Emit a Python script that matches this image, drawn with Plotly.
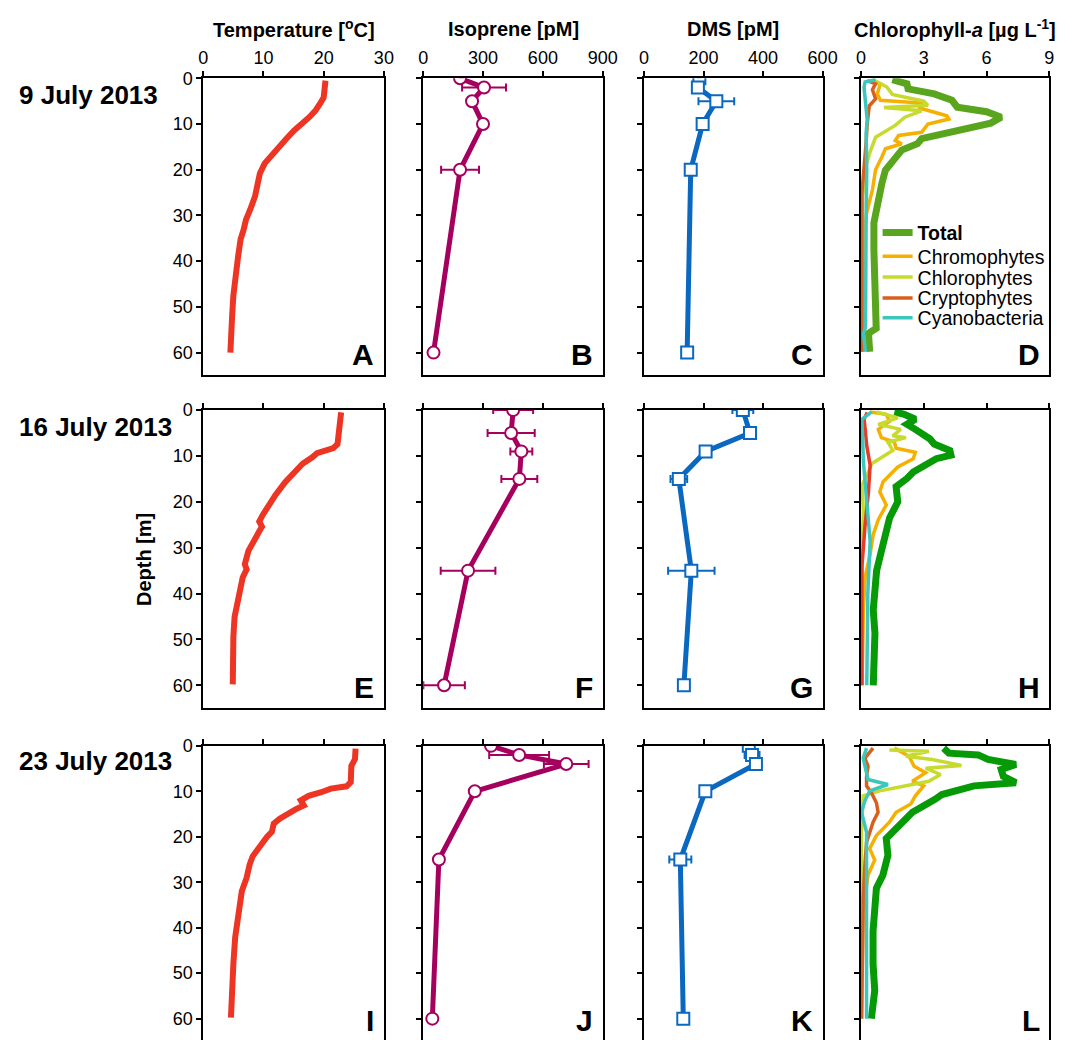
import plotly.graph_objects as go

# ---------------- data ----------------
dates = ["9 July 2013", "16 July 2013", "23 July 2013"]
panel_letters = ["A", "B", "C", "D", "E", "F", "G", "H", "I", "J", "K", "L"]
col_titles = ["Temperature [<sup>o</sup>C]", "Isoprene [pM]", "DMS [pM]",
              "Chlorophyll-<i>a</i> [µg L<sup>-1</sup>]"]
x_ticks = [[0, 10, 20, 30], [0, 300, 600, 900], [0, 200, 400, 600], [0, 3, 6, 9]]
depth_ticks = [0, 10, 20, 30, 40, 50, 60]

# Temperature profiles
temp_depth_1 = [0.5, 4.2, 5.3, 7.1, 8.5, 10.3, 11.4, 13.2, 15.0, 16.8, 18.6, 20.8, 23.0, 25.8,
                28.7, 30.9, 33.1, 35.2, 38.8, 43.2, 47.5, 51.8, 56.2, 60.0]
temp_1 = [20.3, 20.0, 19.5, 18.6, 17.6, 15.9, 15.1, 13.8, 12.7, 11.3, 10.2, 9.4, 9.0, 8.6,
          7.8, 7.1, 6.7, 6.2, 5.8, 5.3, 5.0, 4.8, 4.6, 4.5]
temp_depth_2 = [0.5, 4.2, 7.4, 8.3, 9.4, 10.3, 11.7, 13.5, 15.7, 18.5, 21.0, 22.8, 24.3, 25.4,
                26.4, 28.6, 30.7, 33.6, 34.7, 36.5, 40.1, 42.2, 45.1, 49.4, 54.5, 59.8]
temp_2 = [22.9, 22.7, 22.3, 21.6, 18.9, 18.1, 16.5, 15.2, 13.6, 12.0, 10.7, 9.9, 9.3, 9.75,
          9.3, 8.3, 7.5, 6.9, 7.2, 6.55, 6.0, 5.6, 5.2, 5.0, 4.9, 4.9]
temp_depth_3 = [0.6, 2.9, 4.4, 8.0, 8.9, 9.4, 10.2, 11.0, 12.0, 13.1, 13.9, 14.9, 16.0, 17.1,
                18.9, 20.0, 21.8, 24.3, 26.1, 29.0, 32.0, 37.8, 42.1, 47.9, 52.3, 59.8]
temp_3 = [25.3, 25.2, 24.6, 24.5, 23.8, 21.2, 19.6, 17.5, 16.2, 16.7, 15.4, 14.0, 12.7, 11.7,
          11.4, 10.6, 9.5, 8.2, 7.7, 7.2, 6.4, 5.8, 5.3, 5.0, 4.8, 4.6]

# Isoprene (pM) with standard deviation
iso_depth_1 = [0, 2, 5, 10, 20, 60]
iso_1 = [185, 305, 245, 300, 185, 52]
iso_err_1 = [0, 110, 0, 0, 95, 0]
iso_depth_2 = [0, 5, 9, 15, 35, 60]
iso_2 = [451, 441, 492, 482, 225, 105]
iso_err_2 = [100, 118, 55, 90, 137, 104]
iso_depth_3 = [0, 2, 4, 10, 25, 60]
iso_3 = [340, 481, 717, 259, 79, 46]
iso_err_3 = [0, 150, 112, 0, 0, 0]

# DMS (pM) with standard deviation
dms_depth_1 = [0, 2, 5, 10, 20, 60]
dms_1 = [186, 181, 243, 197, 157, 145]
dms_err_1 = [0, 0, 60, 0, 0, 0]
dms_depth_2 = [0, 5, 9, 15, 35, 60]
dms_2 = [332, 356, 207, 117, 159, 134]
dms_err_2 = [35, 0, 0, 28, 78, 0]
dms_depth_3 = [0, 2, 4, 10, 25, 60]
dms_3 = [352, 363, 376, 206, 122, 132]
dms_err_3 = [0, 25, 12, 0, 37, 0]

# Chlorophyll-a by group (ug/L)
chl_groups = ["<b>Total</b>", "Chromophytes", "Chlorophytes", "Cryptophytes", "Cyanobacteria"]

tot_d1 = [0.3, 1.2, 2.3, 3.4, 4.8, 6.3, 7.3, 8.5, 9.8, 11.0, 12.1, 13.2, 14.3, 15.7, 17.9, 20.1,
          23.0, 27.3, 31.6, 37.4, 43.9, 51.1, 54.7, 55.8, 59.8]
tot_v1 = [1.5, 2.2, 2.25, 3.5, 4.35, 4.6, 6.0, 6.7, 6.2, 4.9, 3.98, 2.9, 2.7, 1.95, 1.56, 1.17,
          1.0, 0.78, 0.62, 0.62, 0.67, 0.67, 0.73, 0.36, 0.42]
chromo_d1 = [0.5, 1.2, 3.4, 4.8, 5.4, 6.5, 8.2, 8.9, 10.0, 11.8, 12.5, 13.6, 14.3, 15.4, 17.2,
             20.0, 24.4, 29.5, 34.5, 45.0, 59.8]
chromo_v1 = [0.5, 0.93, 0.78, 0.93, 2.9, 2.8, 4.1, 4.2, 3.2, 2.9, 1.8, 1.64, 1.95, 1.17, 1.0,
             0.7, 0.55, 0.27, 0.15, 0.1, 0.08]
chloro_d1 = [0.2, 1.9, 3.5, 5.0, 5.9, 6.4, 7.1, 8.5, 10.3, 12.1, 12.9, 15.7, 18.6, 25.8, 40.0, 59.8]
chloro_v1 = [0.55, 1.24, 1.5, 3.0, 3.2, 1.1, 2.9, 2.1, 1.64, 1.0, 0.7, 0.47, 0.27, 0.08, 0.05, 0.05]
crypto_d1 = [0.5, 1.2, 2.5, 4.5, 6.0, 8.0, 10.0, 14.0, 20.0, 25.0, 40.0, 59.8]
crypto_v1 = [0.3, 0.7, 0.55, 0.7, 0.4, 0.35, 0.3, 0.25, 0.15, 0.05, 0.05, 0.05]
cyano_d1 = [0.3, 0.8, 2.0, 5.0, 9.0, 12.0, 20.0, 30.0, 40.0, 50.0, 54.5, 55.8, 59.8]
cyano_v1 = [0.7, 0.2, 0.15, 0.2, 0.3, 0.25, 0.28, 0.25, 0.25, 0.25, 0.22, 0.12, 0.22]

tot_d2 = [0.4, 0.9, 2.0, 3.1, 4.2, 6.3, 7.4, 8.8, 9.8, 10.6, 13.5, 14.9, 16.7, 20.0, 23.5, 27.1,
          30.7, 35.0, 38.6, 43.6, 48.7, 54.4, 60.0]
tot_v2 = [1.6, 2.07, 2.6, 2.2, 2.6, 3.3, 3.5, 4.25, 4.3, 3.6, 2.5, 2.2, 1.68, 1.76, 1.37, 1.14,
          0.98, 0.75, 0.67, 0.59, 0.67, 0.59, 0.59]
chromo_d2 = [0.4, 0.9, 2.4, 4.2, 6.0, 7.0, 8.3, 9.2, 10.6, 12.4, 15.6, 17.8, 20.7, 23.9, 27.1,
             31.4, 36.5, 43.6, 60.0]
chromo_v2 = [0.44, 1.2, 1.37, 0.83, 0.98, 1.6, 1.68, 2.6, 2.5, 1.76, 1.06, 0.9, 1.21, 0.83, 0.59,
             0.44, 0.2, 0.12, 0.05]
chloro_d2 = [0.4, 1.7, 3.1, 4.2, 5.6, 6.0, 7.0, 8.8, 11.7, 13.5, 16.4, 22.0, 32.0, 60.0]
chloro_v2 = [0.75, 1.76, 0.83, 1.9, 1.52, 2.15, 1.29, 1.52, 0.51, 0.36, 0.05, 0.12, 0.05, 0.05]
crypto_d2 = [0.5, 2.0, 4.0, 7.8, 12.0, 17.8, 25.0, 34.0, 60.0]
crypto_v2 = [0.3, 0.15, 0.2, 0.28, 0.44, 0.36, 0.2, 0.05, 0.05]
cyano_d2 = [0.4, 2.0, 11.3, 20.0, 28.6, 40.0, 60.0]
cyano_v2 = [0.51, 0.05, 0.12, 0.28, 0.44, 0.33, 0.28]

tot_d3 = [0.5, 1.6, 2.0, 3.0, 4.1, 5.2, 6.7, 8.1, 8.8, 10.7, 11.7, 12.8, 14.6, 17.5, 20.4, 24.1,
          28.4, 31.3, 35.7, 40.7, 48.0, 53.8, 60.0]
tot_v3 = [3.95, 4.2, 5.6, 6.07, 7.4, 6.7, 6.8, 7.4, 5.4, 3.87, 3.56, 3.09, 2.46, 1.83, 1.21, 1.29,
          1.05, 0.74, 0.66, 0.58, 0.58, 0.66, 0.5]
chromo_d3 = [0.5, 2.3, 4.5, 5.9, 7.8, 8.8, 11.0, 12.8, 14.6, 16.8, 19.7, 22.6, 25.1, 28.4, 36.0, 60.0]
chromo_v3 = [1.6, 2.3, 2.54, 3.09, 2.46, 3.0, 2.6, 2.38, 1.68, 1.36, 0.74, 0.42, 0.66, 0.34, 0.11, 0.03]
chloro_d3 = [0.9, 1.2, 2.3, 3.0, 4.3, 4.9, 6.3, 7.8, 9.9, 11.0, 19.0, 60.0]
chloro_v3 = [1.36, 3.24, 2.15, 3.4, 4.8, 3.09, 3.8, 3.24, 0.9, 0.11, 0.03, 0.03]
crypto_d3 = [0.5, 2.7, 4.5, 6.7, 8.8, 10.3, 12.5, 14.6, 16.8, 21.2, 26.2, 33.5, 60.0]
crypto_v3 = [0.58, 0.19, 0.34, 0.27, 0.27, 0.5, 0.74, 0.82, 0.58, 0.27, 0.19, 0.11, 0.03]
cyano_d3 = [0.5, 2.7, 7.4, 8.5, 9.9, 12.1, 14.6, 19.0, 26.2, 48.0, 60.0]
cyano_v3 = [0.27, 0.11, 0.34, 1.29, 0.42, 0.19, 0.03, 0.27, 0.27, 0.27, 0.27]

# ---------------- styles ----------------
W, H = 1084, 1040
FONT = "Arial, 'Liberation Sans', sans-serif"
C_TEMP = "#EE3524"
C_ISO = "#A6005F"
C_DMS = "#0A68C0"
C_TOT = ["#5AA51E", "#079A07", "#079A07"]
C_CHROMO = "#F5B000"
C_CHLORO = "#C6DB2E"
C_CRYPTO = ["#D8601E", "#E83A28", "#D8601E"]
C_CYANO = "#3CC6BC"

COLS = [(202, 386), (426, 609), (651, 833), (872, 1064)]   # pixel x bounds
ROWS = [(69, 369), (404, 705), (743, 1040)]                # pixel y bounds
YMAX = [65.0, 65.0, 64.7]
XRANGES = [[0, 30], [0, 900], [0, 600], [0, 9]]


def px(x):
    return x / W


def py(y):
    return 1 - y / H


temps = [(temp_1, temp_depth_1), (temp_2, temp_depth_2), (temp_3, temp_depth_3)]
isos = [(iso_1, iso_depth_1, iso_err_1), (iso_2, iso_depth_2, iso_err_2),
        (iso_3, iso_depth_3, iso_err_3)]
dmss = [(dms_1, dms_depth_1, dms_err_1), (dms_2, dms_depth_2, dms_err_2),
        (dms_3, dms_depth_3, dms_err_3)]
chls = [
    [(tot_v1, tot_d1), (chromo_v1, chromo_d1), (chloro_v1, chloro_d1), (crypto_v1, crypto_d1), (cyano_v1, cyano_d1)],
    [(tot_v2, tot_d2), (chromo_v2, chromo_d2), (chloro_v2, chloro_d2), (crypto_v2, crypto_d2), (cyano_v2, cyano_d2)],
    [(tot_v3, tot_d3), (chromo_v3, chromo_d3), (chloro_v3, chloro_d3), (crypto_v3, crypto_d3), (cyano_v3, cyano_d3)],
]

fig = go.Figure()
layout_axes = {}

for r in range(3):
    for c in range(4):
        k = r * 4 + c + 1
        xa = "xaxis" if k == 1 else f"xaxis{k}"
        ya = "yaxis" if k == 1 else f"yaxis{k}"
        layout_axes[xa] = dict(
            domain=[px(COLS[c][0]), px(COLS[c][1])], anchor=f"y{k}" if k > 1 else "y",
            range=XRANGES[c], side="top", tickvals=x_ticks[c],
            showticklabels=(r == 0), ticks="outside", ticklen=5, tickwidth=2,
            tickcolor="black", showline=True, linecolor="black", linewidth=2,
            mirror=(r < 2), showgrid=False, zeroline=False,
            tickfont=dict(family=FONT, size=18, color="black"), fixedrange=True,
        )
        layout_axes[ya] = dict(
            domain=[py(ROWS[r][1]), py(ROWS[r][0])], anchor=f"x{k}" if k > 1 else "x",
            range=[YMAX[r], 0], tickvals=depth_ticks, showticklabels=(c == 0),
            ticks="outside", ticklen=5, tickwidth=2, tickcolor="black",
            showline=True, linecolor="black", linewidth=2, mirror=True,
            showgrid=False, zeroline=False,
            tickfont=dict(family=FONT, size=18, color="black"), fixedrange=True,
        )

    ax = lambda c: ("x" if r * 4 + c + 1 == 1 else f"x{r * 4 + c + 1}",
                    "y" if r * 4 + c + 1 == 1 else f"y{r * 4 + c + 1}")

    # Temperature
    xx, yy = ax(0)
    t, d = temps[r]
    fig.add_trace(go.Scatter(x=t, y=d, xaxis=xx, yaxis=yy, mode="lines",
                             line=dict(color=C_TEMP, width=6), showlegend=False))
    # Isoprene
    xx, yy = ax(1)
    v, d, e = isos[r]
    fig.add_trace(go.Scatter(
        x=v, y=d, xaxis=xx, yaxis=yy, mode="lines+markers",
        line=dict(color=C_ISO, width=5),
        marker=dict(symbol="circle", size=12, color="white", line=dict(color=C_ISO, width=2)),
        error_x=dict(type="data", array=e, color=C_ISO, thickness=2, width=4, visible=True),
        showlegend=False))
    # DMS
    xx, yy = ax(2)
    v, d, e = dmss[r]
    fig.add_trace(go.Scatter(
        x=v, y=d, xaxis=xx, yaxis=yy, mode="lines+markers",
        line=dict(color=C_DMS, width=5),
        marker=dict(symbol="square", size=12, color="white", line=dict(color=C_DMS, width=2)),
        error_x=dict(type="data", array=e, color=C_DMS, thickness=2, width=4, visible=True),
        showlegend=False))
    # Chlorophyll
    xx, yy = ax(3)
    colors = [C_TOT[r], C_CHROMO, C_CHLORO, C_CRYPTO[r], C_CYANO]
    widths = [7, 3.5, 3.5, 3.5, 3.5]
    for g in range(5):
        v, d = chls[r][g]
        leg = "legend" if g == 0 else f"legend{g + 1}"
        fig.add_trace(go.Scatter(
            x=v, y=d, xaxis=xx, yaxis=yy, mode="lines", name=chl_groups[g],
            line=dict(color=colors[g], width=widths[g]),
            showlegend=(r == 0), legend=leg))

# legends (one entry each, placed inside panel D)
legend_y = [225, 249, 270, 291, 311]
for g in range(5):
    key = "legend" if g == 0 else f"legend{g + 1}"
    layout_axes[key] = dict(
        x=px(889), y=py(legend_y[g]), xanchor="left", yanchor="middle",
        bgcolor="rgba(0,0,0,0)", borderwidth=0, itemwidth=30,
        font=dict(family=FONT, size=19.5, color="black"),
        itemclick=False, itemdoubleclick=False,
    )

annotations = []
# column titles
title_cx = [294, 518, 742, 968]
for c in range(4):
    annotations.append(dict(
        text=f"<b>{col_titles[c]}</b>", x=px(title_cx[c]), y=py(19), xref="paper", yref="paper",
        xanchor="center", yanchor="middle", showarrow=False,
        font=dict(family=FONT, size=20, color="black")))
# date labels
date_cy = [86, 421, 758]
for r in range(3):
    annotations.append(dict(
        text=f"<b>{dates[r]}</b>", x=px(12), y=py(date_cy[r]), xref="paper", yref="paper",
        xanchor="left", yanchor="middle", showarrow=False,
        font=dict(family=FONT, size=26, color="black")))
# depth label
annotations.append(dict(
    text="<b>Depth [m]</b>", x=px(141), y=py(555), xref="paper", yref="paper",
    xanchor="center", yanchor="middle", textangle=-90, showarrow=False,
    font=dict(family=FONT, size=20, color="black")))
# panel letters
row_bottom = [369, 705, 1041]
for r in range(3):
    for c in range(4):
        annotations.append(dict(
            text=f"<b>{panel_letters[r * 4 + c]}</b>", x=px(COLS[c][1] - 8),
            y=py(row_bottom[r] - 2), xref="paper", yref="paper",
            xanchor="right", yanchor="bottom", showarrow=False,
            font=dict(family=FONT, size=30, color="black")))

fig.update_layout(
    width=W, height=H, margin=dict(l=0, r=0, t=0, b=0),
    paper_bgcolor="white", plot_bgcolor="white",
    font=dict(family=FONT, color="black"),
    annotations=annotations, **layout_axes,
)

fig.write_html(
    "out.html",
    config={"displayModeBar": False},
    post_script="document.body.style.margin='0px';document.body.style.overflow='hidden';",
)
